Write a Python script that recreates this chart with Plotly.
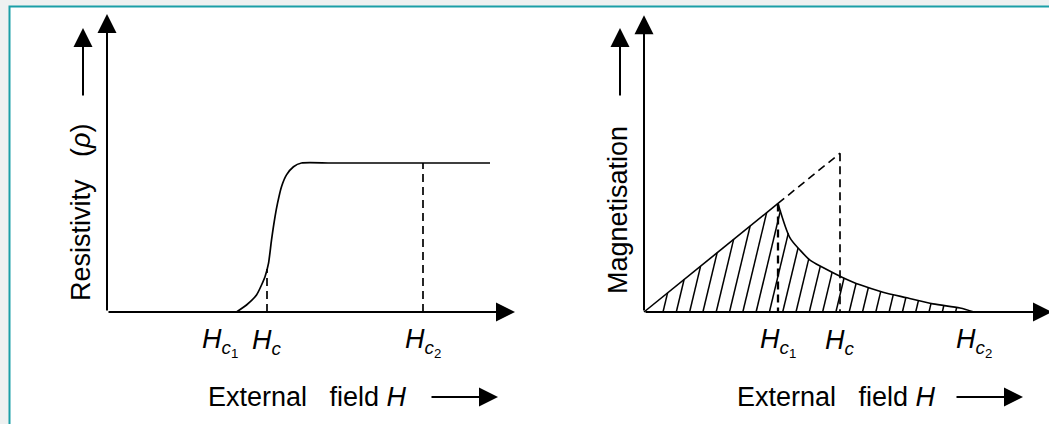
import numpy as np
import plotly.graph_objects as go

W, H_PX = 1049, 424
FONT = "Liberation Sans"

# ---------------- Resistivity panel (field in arbitrary units, rho / rho_n) ----------------
rho_field = [2.59, 2.79, 2.99, 3.16, 3.23, 3.29, 3.36, 3.41, 3.49, 3.59, 3.73, 3.89, 4.5, 7.66]
rho_value = [0.0, 0.047, 0.114, 0.237, 0.326, 0.483, 0.639, 0.729, 0.841, 0.92, 0.975, 1.0, 1.0, 1.0]
rho_hc = 3.2          # dashed marker at Hc
rho_hc2 = 6.32        # dashed marker at Hc2
rho_tick_pos = [2.26, 3.2, 6.32]

# ---------------- Magnetisation panel (-M in field units) ----------------
hc1 = 2.68
hc = 3.92
mixed_field = [2.68, 2.92, 3.12, 3.32, 3.56, 3.96, 4.32, 4.78, 5.26, 5.78, 6.32, 6.6]
mixed_mag = [2.68, 1.83, 1.53, 1.28, 1.11, 0.86, 0.67, 0.49, 0.35, 0.20, 0.10, 0.0]
mag_tick_pos = [2.68, 3.92, 6.6]

tick_text = ["<i>H</i><sub><i>c</i><sub>1</sub></sub>",
             "<i>H</i><sub><i>c</i></sub>",
             "<i>H</i><sub><i>c</i><sub>2</sub></sub>"]

# pixel layout of the two coordinate frames
px_per_h = 50.0
left_origin = (107, 312)
right_origin = (644, 312)
rho_px = 149.0
mag_px = 40.5

def xrange_for(ox):
    return [-ox / px_per_h, (W - ox) / px_per_h]

def yrange_for(oy, s):
    return [(oy - H_PX) / s, oy / s]

fig = go.Figure()
dash = "8px,5px"

# ---- left panel ----
fig.add_trace(go.Scatter(x=rho_field, y=rho_value, mode="lines",
                         line=dict(color="black", width=1.7, shape="spline", smoothing=0.6),
                         xaxis="x", yaxis="y"))
rho_at_hc = float(np.interp(rho_hc, rho_field, rho_value))
rho_at_hc2 = float(np.interp(rho_hc2, rho_field, rho_value))
fig.add_trace(go.Scatter(x=[rho_hc, rho_hc], y=[0, rho_at_hc], mode="lines",
                         line=dict(color="black", width=1.7, dash=dash), xaxis="x", yaxis="y"))
fig.add_trace(go.Scatter(x=[rho_hc2, rho_hc2], y=[0, rho_at_hc2], mode="lines",
                         line=dict(color="black", width=1.7, dash=dash), xaxis="x", yaxis="y"))

# ---- right panel ----
def upper(h):
    h = np.asarray(h, dtype=float)
    return np.where(h <= hc1, h, np.interp(h, mixed_field, mixed_mag))

# hatching of the area under the magnetisation curve
slant = 0.24 * mag_px / px_per_h
for xb in np.arange(0.38, mixed_field[-1] - 0.2, 0.266):
    lo, hi = 0.0, 4.0
    for _ in range(50):
        mid = 0.5 * (lo + hi)
        if mid < upper(xb + mid * slant):
            lo = mid
        else:
            hi = mid
    fig.add_trace(go.Scatter(x=[xb, xb + lo * slant], y=[0, lo], mode="lines",
                             line=dict(color="black", width=1.5), xaxis="x2", yaxis="y2"))

fig.add_trace(go.Scatter(x=[0, hc1], y=[0, hc1], mode="lines",
                         line=dict(color="black", width=1.6), xaxis="x2", yaxis="y2"))
fig.add_trace(go.Scatter(x=[hc1, hc], y=[hc1, hc], mode="lines",
                         line=dict(color="black", width=1.6, dash=dash), xaxis="x2", yaxis="y2"))
fig.add_trace(go.Scatter(x=[hc, hc], y=[hc, 0], mode="lines",
                         line=dict(color="black", width=1.7, dash=dash), xaxis="x2", yaxis="y2"))
fig.add_trace(go.Scatter(x=[hc1, hc1], y=[hc1, 0], mode="lines",
                         line=dict(color="black", width=2.3, dash=dash), xaxis="x2", yaxis="y2"))
fig.add_trace(go.Scatter(x=mixed_field, y=mixed_mag, mode="lines",
                         line=dict(color="black", width=1.6, shape="spline", smoothing=0.8),
                         xaxis="x2", yaxis="y2"))

ann = []
arrow = dict(showarrow=True, arrowhead=2, arrowsize=1.9, arrowwidth=2, arrowcolor="black", text="")

# axes with arrowheads (drawn in data coordinates)
for xr, yr, ytip in (("x", "y", 2.0), ("x2", "y2", 7.33)):
    ann.append(dict(arrow, xref=xr, yref=yr, axref=xr, ayref=yr, x=8.16, y=0, ax=0, ay=0))
    ann.append(dict(arrow, xref=xr, yref=yr, axref=xr, ayref=yr, x=0, y=ytip, ax=0, ay=0))

# tick labels
tick_font = dict(family=FONT, size=27, color="black")
for xr, yr, pos in (("x", "y", rho_tick_pos), ("x2", "y2", mag_tick_pos)):
    for p, t in zip(pos, tick_text):
        ann.append(dict(xref=xr, yref=yr, x=p, y=0, yshift=-30, text=t, showarrow=False,
                        xanchor="center", yanchor="middle", font=tick_font))

def px(x, y):
    return x / W, 1 - y / H_PX

# axis titles and their direction arrows
title_font = dict(family=FONT, size=27, color="black")
for xend, arrow_tip in ((409, 498), (938, 1023)):
    x0, y0 = px(xend, 397)
    ann.append(dict(xref="paper", yref="paper", x=x0, y=y0, xanchor="right", yanchor="middle",
                    text="External\u00a0\u00a0\u00a0field <i>H</i>", showarrow=False, font=title_font))
    xt, yt = px(arrow_tip, 397)
    ann.append(dict(arrow, xref="paper", yref="paper", x=xt, y=yt, ax=-68, ay=0))

x0, y0 = px(81, 213)
ann.append(dict(xref="paper", yref="paper", x=x0, y=y0, textangle=-90, xanchor="center", yanchor="middle",
                text="Resistivity\u00a0\u00a0\u00a0(<i>ρ</i>)", showarrow=False, font=title_font))
x0, y0 = px(618, 210)
ann.append(dict(xref="paper", yref="paper", x=x0, y=y0, textangle=-90, xanchor="center", yanchor="middle",
                text="Magnetisation", showarrow=False, font=title_font))
for xa in (83, 620):
    xt, yt = px(xa, 28)
    ann.append(dict(arrow, xref="paper", yref="paper", x=xt, y=yt, ax=0, ay=69))

axis_off = dict(visible=False, domain=[0, 1], fixedrange=True)
fig.update_layout(
    width=W, height=H_PX, margin=dict(l=0, r=0, t=0, b=0),
    showlegend=False,
    paper_bgcolor="#eef1f1", plot_bgcolor="rgba(0,0,0,0)",
    xaxis=dict(axis_off, range=xrange_for(left_origin[0])),
    yaxis=dict(axis_off, range=yrange_for(left_origin[1], rho_px), anchor="x"),
    xaxis2=dict(axis_off, range=xrange_for(right_origin[0]), anchor="y2"),
    yaxis2=dict(axis_off, range=yrange_for(right_origin[1], mag_px), anchor="x2"),
    annotations=ann,
    shapes=[dict(type="rect", xref="paper", yref="paper", layer="below",
                 x0=9.5 / W, x1=1.05, y0=-0.05, y1=1 - 6.5 / H_PX,
                 fillcolor="white", line=dict(color="#1b9fa7", width=2))],
)

fig.write_html("out.html", config=dict(displayModeBar=False, staticPlot=True))
